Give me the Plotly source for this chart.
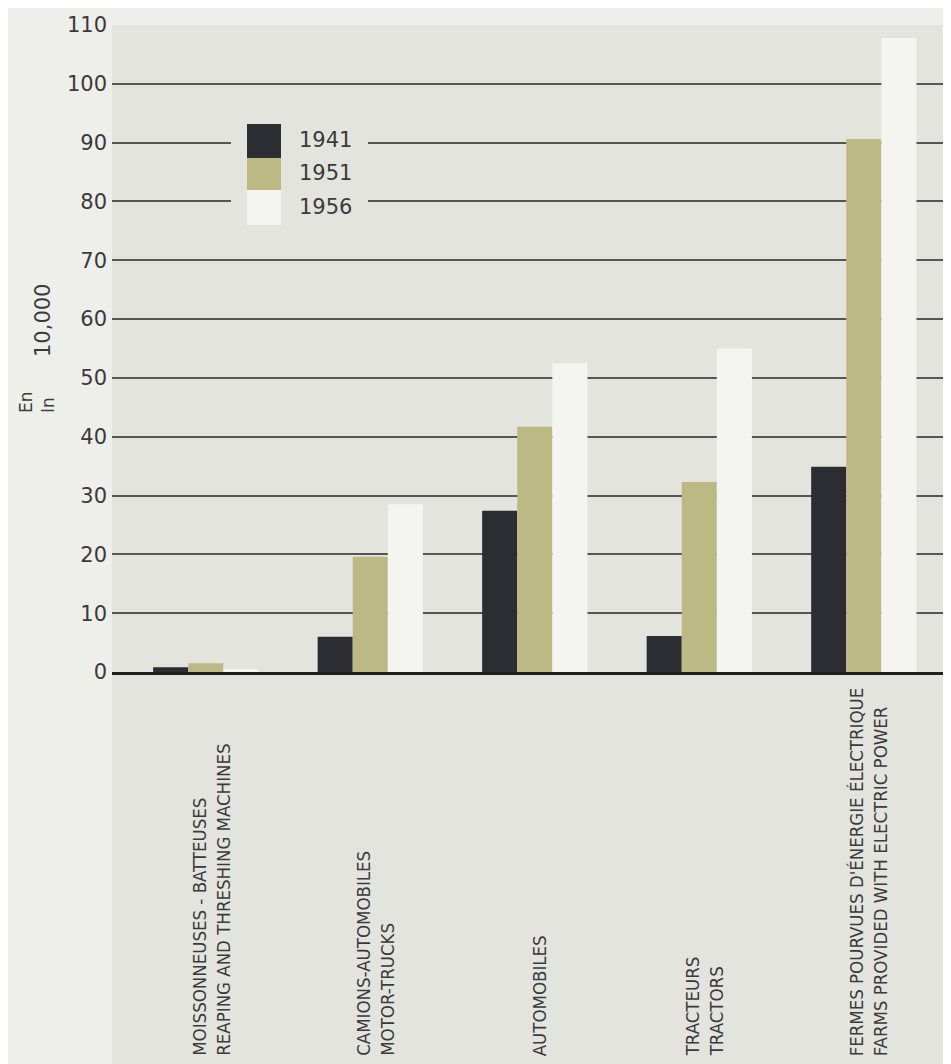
import plotly.graph_objects as go

# ---- data ----
categories_fr_en = [
    "MOISSONNEUSES - BATTEUSES<br>REAPING AND THRESHING MACHINES",
    "CAMIONS-AUTOMOBILES<br>MOTOR-TRUCKS",
    "AUTOMOBILES",
    "TRACTEURS<br>TRACTORS",
    "FERMES POURVUES D'ÉNERGIE ÉLECTRIQUE<br>FARMS PROVIDED WITH ELECTRIC POWER",
]
years = ["1941", "1951", "1956"]
v1941 = [0.8, 6.0, 27.4, 6.1, 34.9]
v1951 = [1.5, 19.6, 41.7, 32.3, 90.6]
v1956 = [0.5, 28.5, 52.5, 55.0, 107.8]
y_ticks = [0, 10, 20, 30, 40, 50, 60, 70, 80, 90, 100, 110]

# ---- style ----
OFF = 8  # page body margin
W, H = 951 - OFF, 1064 - OFF
ML, MR, MT = 112 - OFF, 0, 25 - OFF
MB = H - (672 - OFF)
PW = W - ML - MR
PH = H - MT - MB
colors = ["#2c2d33", "#bdb985", "#f4f4f0"]
plot_bg = "#e4e4df"
paper_bg = "#eeeeea"
txt = "#3a3a3a"
tick_font = "DejaVu Sans"
label_font = "'DejaVu Sans Condensed', 'Liberation Sans Narrow', 'DejaVu Sans'"

def px_x(p):
    return (p - OFF - ML) / PW

def px_y(p):
    return (H - MB - (p - OFF)) / PH

xs = list(range(len(categories_fr_en)))
series = [v1941, v1951, v1956]

fig = go.Figure()
for name, vals, c in zip(years, series, colors):
    fig.add_trace(go.Bar(x=xs, y=vals, name=name, marker=dict(color=c, line=dict(width=0)),
                         showlegend=False))

shapes = []
# textured backdrop extending below the plot
shapes.append(dict(type="rect", xref="paper", yref="paper", x0=0, x1=1,
                   y0=-MB / PH, y1=1, fillcolor=plot_bg, line=dict(width=0), layer="below"))
# legend patch hiding gridlines
shapes.append(dict(type="rect", xref="paper", yref="paper", x0=px_x(231), x1=px_x(368),
                   y0=px_y(232), y1=px_y(115), fillcolor=plot_bg, line=dict(width=0), layer="above"))
sw_tops = [124, 158, 190]
sw_bots = [158, 190, 225]
for c, t, b in zip(colors, sw_tops, sw_bots):
    shapes.append(dict(type="rect", xref="paper", yref="paper", x0=px_x(247), x1=px_x(281),
                       y0=px_y(b), y1=px_y(t), fillcolor=c, line=dict(width=0), layer="above"))

annotations = []
for yr, t, b in zip(years, sw_tops, sw_bots):
    annotations.append(dict(text=yr, xref="paper", yref="paper", x=px_x(297), y=px_y((t + b) / 2 - 1),
                            xanchor="left", yanchor="middle", showarrow=False,
                            font=dict(family=tick_font, size=21, color=txt)))
# category labels (vertical, starting at bottom)
for i, lab in enumerate(categories_fr_en):
    annotations.append(dict(text=lab, xref="x", yref="paper", x=i, y=px_y(1058),
                            xanchor="center", yanchor="bottom", textangle=-90, align="left",
                            xshift=5, showarrow=False,
                            font=dict(family=label_font, size=18.5, color=txt)))
# y-axis title
annotations.append(dict(text="En<br>In", xref="paper", yref="paper", x=px_x(37), y=px_y(402),
                        xanchor="center", yanchor="middle", textangle=-90, align="left",
                        showarrow=False, font=dict(family=tick_font, size=17, color=txt)))
annotations.append(dict(text="10,000", xref="paper", yref="paper", x=px_x(43), y=px_y(321),
                        xanchor="center", yanchor="middle", textangle=-90,
                        showarrow=False, font=dict(family=tick_font, size=21, color=txt)))

fig.update_layout(
    width=W, height=H,
    margin=dict(l=ML, r=MR, t=MT, b=MB, pad=0),
    paper_bgcolor=paper_bg, plot_bgcolor=plot_bg,
    barmode="group", bargap=0.36, bargroupgap=0,
    shapes=shapes, annotations=annotations,
    xaxis=dict(range=[-0.57, 4.53], showticklabels=False, showgrid=False, zeroline=False,
               showline=True, linecolor="#1e1e1e", linewidth=2.5, ticks="", fixedrange=True),
    yaxis=dict(range=[0, 110], tickmode="array", tickvals=y_ticks,
               ticktext=[str(v) for v in y_ticks], showgrid=True, gridcolor="#555555",
               gridwidth=2, zeroline=False, showline=False, ticks="",
               tickfont=dict(family=tick_font, size=21, color=txt), ticklabelstandoff=4),
)

fig.write_html("out.html")
